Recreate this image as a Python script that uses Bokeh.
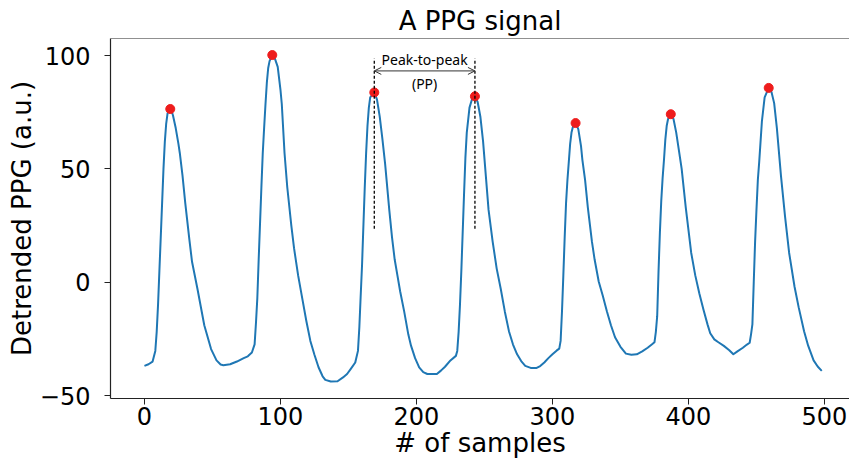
from bokeh.plotting import figure
from bokeh.models import Range1d, FixedTicker, Span, Arrow, OpenHead, Label
from bokeh.embed import file_html
from bokeh.resources import INLINE

# ---- data ----
sample = [0, 3, 6, 8, 9, 10, 11, 12, 13, 14, 15, 16, 17, 18, 19, 20, 21, 23, 25, 26, 28, 30,
          33, 35, 39, 44, 49, 53, 56, 58, 63, 68, 73, 76, 79, 81, 82, 83, 84, 85, 86, 87,
          88, 89, 90, 91, 92, 94, 96, 98, 100, 101, 103, 105, 108, 110, 113, 116, 119, 122,
          125, 128, 131, 133, 137, 142, 146, 149, 152, 155, 157, 158, 159, 160, 161, 162,
          163, 164, 165, 166, 169, 171, 173, 175, 177, 180, 182, 184, 186, 188, 191, 194,
          196, 199, 202, 205, 208, 215, 218, 221, 225, 229, 230, 231, 232, 233, 234, 235,
          236, 237, 239, 241, 243, 245, 247, 249, 251, 253, 256, 259, 262, 265, 268, 271,
          274, 277, 280, 284, 288, 291, 294, 297, 300, 303, 305, 306, 307, 308, 309, 310,
          311, 312, 313, 314, 315, 317, 319, 321, 322, 324, 326, 329, 331, 334, 337, 340,
          343, 346, 350, 354, 358, 362, 366, 370, 373, 375, 376, 377, 378, 379, 380, 381,
          382, 383, 384, 385, 387, 389, 391, 393, 395, 398, 402, 405, 408, 411, 414, 416,
          419, 422, 426, 430, 433, 436, 440, 443, 445, 446, 447, 448, 449, 450, 451, 452,
          453, 454, 456, 459, 461, 463, 465, 468, 471, 474, 478, 481, 485, 488, 492, 495,
          498]
ppg = [-36.9, -36.2, -35.0, -30.3, -22.0, -10.0, 5.0, 20.0, 35.0, 50.0, 62.0, 70.0, 74.5,
       76.0, 76.4, 75.5, 73.5, 68.0, 61.0, 57.0, 47.0, 35.0,
       19.0, 9.0, -3.0, -19.0, -29.5, -34.5, -36.3, -36.6, -36.2, -35.0, -33.5, -32.7,
       -31.0, -27.4, -18.0, -7.0, 10.0, 26.0, 42.0, 57.0,
       68.0, 78.5, 88.0, 94.5, 97.5, 100.2, 98.5, 95.0, 85.0, 78.5, 57.0, 42.0, 25.0,
       15.0, 3.0, -7.0, -17.0, -25.9,
       -32.0, -37.5, -41.5, -43.1, -43.8, -43.7, -42.0, -40.5, -38.0, -35.4, -30.3,
       -20.0, -6.0, 7.6, 25.0, 42.0,
       57.0, 69.0, 77.0, 81.5, 83.7, 80.5, 73.0, 63.0, 52.0, 32.0, 20.0, 10.0, 3.0, -4.0,
       -13.0, -23.0,
       -28.0, -33.5, -37.6, -39.7, -40.5, -40.5, -39.0, -37.3, -34.5, -32.5, -30.3,
       -22.0, -10.0, 5.0, 22.0, 39.0,
       55.0, 66.0, 77.0, 81.0, 82.0, 79.5, 73.0, 62.0, 47.0, 32.0, 18.0, 6.0, -3.0,
       -13.0, -21.6, -27.5,
       -31.8, -34.8, -36.9, -37.8, -37.9, -37.0, -35.4, -33.5, -31.8, -30.2, -29.3,
       -25.9, -13.0, 3.0, 20.0, 35.0,
       45.0, 53.0, 61.0, 66.0, 68.5, 70.2, 67.5, 60.0, 54.0, 45.0, 33.0, 18.0, 10.0, 0.3,
       -6.0, -12.8,
       -19.0, -24.3, -28.5, -31.5, -32.0, -31.8, -30.5, -28.9, -27.5, -26.5, -22.0,
       -15.0, 5.0, 22.0, 36.0, 46.0,
       54.0, 63.0, 69.0, 72.0, 74.1, 72.0, 66.0, 58.0, 50.0, 33.0, 13.0, 3.0, -5.0,
       -12.0, -18.6, -22.5,
       -25.2, -26.5, -28.1, -30.0, -31.8, -30.5, -28.9, -27.5, -26.7, -23.0, -18.6, 0.0,
       18.0, 32.0, 45.0, 53.0,
       62.0, 71.0, 81.5, 85.7, 84.0, 79.0, 68.0, 47.0, 29.0, 13.0, -2.0, -11.0, -21.6,
       -28.0, -34.5, -37.2,
       -39.1]

peak_x = [19, 94, 169, 243, 317, 387, 459]
peak_y = [76.4, 100.2, 83.7, 82.0, 70.2, 74.1, 85.7]

x_ticks = [0, 100, 200, 300, 400, 500]
y_ticks = [-50, 0, 50, 100]
y_tick_labels = {-50: "\u221250", 0: "0", 50: "50", 100: "100"}

title_text = "A PPG signal"
x_label = "# of samples"
y_label = "Detrended PPG (a.u.)"
pp_text = "Peak-to-peak"
pp_sub = "(PP)"

FONT = "DejaVu Sans"

p = figure(width=849, height=465, output_backend="svg", toolbar_location=None,
           x_range=Range1d(-24.95, 518.4), y_range=Range1d(-51.3, 107.5),
           min_border_left=110, min_border_right=0, min_border_top=35,
           min_border_bottom=67)
p.background_fill_color = "white"
p.border_fill_color = "white"
p.outline_line_color = None
p.xgrid.visible = False
p.ygrid.visible = False

p.title.text = title_text
p.title.align = "center"
p.title.text_font = FONT
p.title.text_font_size = "26px"
p.title.text_font_style = "normal"
p.title.text_color = "black"
p.title.standoff = 6

for ax in (p.xaxis[0], p.yaxis[0]):
    ax.axis_line_color = "#222222"
    ax.axis_line_width = 1.2
    ax.major_tick_line_color = "#222222"
    ax.major_tick_out = 6
    ax.major_tick_in = 0
    ax.minor_tick_line_color = None
    ax.major_label_text_font = FONT
    ax.major_label_text_font_size = "24px"
    ax.major_label_text_color = "black"
    ax.axis_label_text_font = FONT
    ax.axis_label_text_font_size = "26px"
    ax.axis_label_text_font_style = "normal"
    ax.axis_label_text_color = "black"

p.xaxis[0].ticker = FixedTicker(ticks=x_ticks)
p.yaxis[0].ticker = FixedTicker(ticks=y_ticks)
p.yaxis[0].major_label_overrides = y_tick_labels
p.xaxis[0].axis_label = x_label
p.yaxis[0].axis_label = y_label
p.xaxis[0].major_label_standoff = 2
p.xaxis[0].axis_label_standoff = 0
p.yaxis[0].major_label_standoff = 14
p.yaxis[0].axis_label_standoff = 0

# top spine
p.add_layout(Span(location=107.5, dimension="width", line_color="#222222", line_width=1.2))

# signal and peaks
p.line(sample, ppg, line_color="#1f77b4", line_width=2, line_join="round")
p.scatter(peak_x, peak_y, size=9, fill_color="#ee1c1c", line_color="#ee1c1c")

# peak-to-peak annotation
seg_bottom = 23.6
seg_top = 98.7
p.segment(x0=[peak_x[2], peak_x[3]], y0=[seg_bottom, seg_bottom],
          x1=[peak_x[2], peak_x[3]], y1=[seg_top, seg_top],
          line_color="black", line_width=1.3, line_dash="3 2")
p.add_layout(Arrow(x_start=peak_x[2], y_start=93.2, x_end=peak_x[3], y_end=93.2,
                   line_color="#333333", line_width=1,
                   start=OpenHead(size=7, line_color="#333333", line_width=1),
                   end=OpenHead(size=7, line_color="#333333", line_width=1)))
mid = (peak_x[2] + peak_x[3]) / 2
p.add_layout(Label(x=mid, y=98.3, text=pp_text, text_align="center",
                   text_baseline="middle", text_font="Noto Sans",
                   text_font_size="14px", text_color="black"))
p.add_layout(Label(x=mid, y=87.8, text=pp_sub, text_align="center",
                   text_baseline="middle", text_font="Noto Sans",
                   text_font_size="14px", text_color="black"))

open("out.html", "w").write(file_html(p, INLINE))
